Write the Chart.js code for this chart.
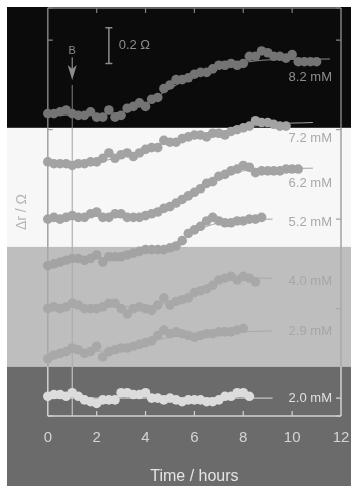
<!DOCTYPE html>
<html>
<head>
<meta charset="utf-8">
<script src="https://cdn.jsdelivr.net/npm/chart.js@4.4.0/dist/chart.umd.min.js"></script>
<style>
  html, body { margin: 0; padding: 0; background: #fff; }
  canvas { display: block; }
</style>
</head>
<body>
<canvas id="myChart" width="351" height="486"></canvas>
<script>
// time axis shared by all runs (hours)
var hours = [0, 0.25, 0.5, 0.75, 1, 1.25, 1.5, 1.75, 2, 2.25, 2.5, 2.75, 3, 3.25, 3.5, 3.75,
  4, 4.25, 4.5, 4.75, 5, 5.25, 5.5, 5.75, 6, 6.25, 6.5, 6.75, 7, 7.25, 7.5, 7.75,
  8, 8.25, 8.5, 8.75, 9, 9.25, 9.5, 9.75, 10, 10.25, 10.5, 10.75, 11];

var conc = ['8.2 mM', '7.2 mM', '6.2 mM', '5.2 mM', '4.0 mM', '2.9 mM', '2.0 mM'];

// delta r (ohm), curves offset as in the figure
var r82 = [1.59, 1.59, 1.60, 1.61, 1.59, 1.58, 1.58, 1.60, 1.57,
  1.57, 1.61, 1.57, 1.58, 1.62, 1.63, 1.65, 1.63,
  1.67, 1.68, 1.73, 1.75, 1.78, 1.78, 1.79, 1.81,
  1.82, 1.82, 1.84, 1.86, 1.86, 1.87, 1.86, 1.87,
  1.91, 1.91, 1.94, 1.93, 1.91, 1.91, 1.90, 1.92,
  1.88, 1.88, 1.88, 1.88];
var r72 = [1.32, 1.31, 1.31, 1.31, 1.30, 1.31, 1.31, 1.32, 1.32,
  1.34, 1.37, 1.34, 1.36, 1.37, 1.35, 1.37, 1.39,
  1.40, 1.40, 1.44, 1.43, 1.43, 1.45, 1.46, 1.47,
  1.47, 1.46, 1.48, 1.48, 1.47, 1.49, 1.50, 1.51,
  1.52, 1.55, 1.54, 1.54, 1.53, 1.52, 1.52];
var r62 = [1.00, 1.01, 1.00, 1.01, 1.02, 1.01, 1.01, 1.03, 1.04,
  1.01, 1.01, 1.03, 1.03, 1.01, 1.01, 1.01, 1.02,
  1.03, 1.04, 1.06, 1.07, 1.09, 1.11, 1.13, 1.15,
  1.17, 1.20, 1.21, 1.24, 1.25, 1.27, 1.28, 1.30,
  1.29, 1.26, 1.27, 1.27, 1.27, 1.27, 1.28, 1.28, 1.28];
var r52 = [0.74, 0.75, 0.76, 0.77, 0.78, 0.78, 0.77, 0.78, 0.80,
  0.76, 0.79, 0.79, 0.79, 0.80, 0.81, 0.82, 0.83,
  0.83, 0.83, 0.83, 0.84, 0.85, 0.88, 0.92, 0.94,
  0.96, 0.99, 1.01, 0.99, 0.98, 0.98, 0.99, 0.99,
  1.00, 1.00, 1.01];
var r40 = [0.50, 0.51, 0.50, 0.51, 0.53, 0.52, 0.50, 0.50, 0.50,
  0.51, 0.53, 0.53, 0.50, 0.47, 0.50, 0.51, 0.50,
  0.49, 0.52, 0.56, 0.52, 0.54, 0.55, 0.56, 0.59,
  0.60, 0.61, 0.63, 0.66, 0.67, 0.68, 0.66, 0.68,
  0.67, 0.65];
var r29 = [0.22, 0.24, 0.25, 0.26, 0.28, 0.27, 0.25, 0.26, 0.29,
  0.23, 0.26, 0.27, 0.28, 0.28, 0.29, 0.30, 0.31,
  0.32, 0.35, 0.38, 0.36, 0.37, 0.36, 0.35, 0.34,
  0.35, 0.36, 0.36, 0.37, 0.37, 0.37, 0.38, 0.39];
var r20 = [0.01, 0.02, 0.02, 0.01, 0.03, 0.01, -0.01, -0.02, -0.03,
  -0.01, -0.01, -0.01, 0.03, 0.03, 0.02, 0.02, 0.03,
  0.00, 0.00, -0.01, 0.00, -0.01, -0.02, -0.01, -0.01,
  -0.01, -0.02, -0.02, -0.01, 0.01, 0.01, 0.03, 0.03,
  0.01];

// fitted curves, read at these hours plus an end hour per run
var fitHours = [0, 2, 3, 4, 5, 6, 7, 8, 9];
var fitEnd = [11.55, 10.85, 10.85, 9.2, 9.15, 9.15, 9.2];
var fit82 = [1.58, 1.585, 1.60, 1.645, 1.73, 1.80, 1.85, 1.875, 1.89, 1.895];
var fit72 = [1.31, 1.32, 1.35, 1.39, 1.435, 1.47, 1.49, 1.51, 1.53, 1.54];
var fit62 = [1.01, 1.015, 1.02, 1.03, 1.07, 1.15, 1.23, 1.27, 1.28, 1.285];
var fit52 = [0.76, 0.78, 0.795, 0.82, 0.85, 0.93, 0.98, 0.995, 1.0, 1.0];
var fit40 = [0.51, 0.51, 0.51, 0.515, 0.535, 0.59, 0.65, 0.67, 0.67, 0.67];
var fit29 = [0.25, 0.26, 0.28, 0.31, 0.34, 0.355, 0.365, 0.37, 0.375, 0.375];
var fit20 = [0.0, 0.0, 0.0, 0.0, 0.0, 0.0, 0.0, 0.0, 0.0, 0.0];

var labelLevel = [1.79, 1.45, 1.20, 0.98, 0.65, 0.37, 0.0];
var bandEdges = [1.51, 0.845, 0.175];

var pointInk = ['#747474', '#a3a3a3', '#a3a3a3', '#a3a3a3', '#a8a8a8', '#a8a8a8', '#dcdcdc'];
var lineInk = ['#8a8a8a', '#a3a3a3', '#a3a3a3', '#a3a3a3', '#a8a8a8', '#a8a8a8', '#dedede'];
var labelInk = ['#8e8e8e', '#a9a9a9', '#a9a9a9', '#a9a9a9', '#a6a6a6', '#a6a6a6', '#e0e0e0'];
var bandFill = ['#0b0b0b', '#f7f7f7', '#bebebe', '#6b6b6b'];
var frameInk = ['#808080', '#a2a2a2', '#a8a8a8', '#d2d2d2'];
var FONT = '"Liberation Sans", Arial, sans-serif';

var series = [r82, r72, r62, r52, r40, r29, r20];
var fits = [fit82, fit72, fit62, fit52, fit40, fit29, fit20];

var datasets = [];
series.forEach(function (vals, i) {
  datasets.push({
    label: conc[i],
    data: vals.map(function (v, j) { return { x: hours[j], y: v }; }),
    showLine: false,
    pointRadius: 4.8,
    pointBorderWidth: 0,
    pointBackgroundColor: pointInk[i],
    clip: false,
    order: 0
  });
  datasets.push({
    label: conc[i] + ' fit',
    data: fitHours.concat([fitEnd[i]]).map(function (t, j) { return { x: t, y: fits[i][j] }; }),
    showLine: true,
    pointRadius: 0,
    borderColor: lineInk[i],
    borderWidth: 1,
    cubicInterpolationMode: 'monotone',
    clip: false,
    order: 1
  });
});

function edgesPx(chart) {
  var y = chart.scales.y;
  return bandEdges.map(function (v) { return y.getPixelForValue(v); });
}
function bandAt(chart, py) {
  var e = edgesPx(chart), i = 0;
  while (i < e.length && py > e[i]) i++;
  return i;
}
function vline(ctx, chart, x, y0, y1, w) {
  var stops = [y0].concat(edgesPx(chart).filter(function (p) { return p > y0 && p < y1; })).concat([y1]);
  ctx.lineWidth = w;
  for (var k = 0; k < stops.length - 1; k++) {
    ctx.strokeStyle = frameInk[bandAt(chart, (stops[k] + stops[k + 1]) / 2)];
    ctx.beginPath();
    ctx.moveTo(x, stops[k]);
    ctx.lineTo(x, stops[k + 1]);
    ctx.stroke();
  }
}

var backdrop = {
  id: 'backdrop',
  beforeDraw: function (chart) {
    var ctx = chart.ctx, a = chart.chartArea, e = edgesPx(chart);
    ctx.save();
    ctx.fillStyle = '#ffffff';
    ctx.fillRect(0, 0, chart.width, chart.height);
    var ys = [a.top - 1].concat(e).concat([chart.height]);
    for (var i = 0; i < 4; i++) {
      ctx.fillStyle = bandFill[i];
      ctx.fillRect(7, ys[i], chart.width - 7, ys[i + 1] - ys[i]);
    }
    ctx.restore();
  },
  beforeDatasetsDraw: function (chart) {
    var ctx = chart.ctx, a = chart.chartArea, xs = chart.scales.x, ys = chart.scales.y;
    ctx.save();
    // frame
    vline(ctx, chart, a.left, a.top, a.bottom, 1.5);
    vline(ctx, chart, a.right, a.top, a.bottom, 1.5);
    ctx.lineWidth = 1.5;
    ctx.strokeStyle = frameInk[0];
    ctx.beginPath(); ctx.moveTo(a.left, a.top); ctx.lineTo(a.right, a.top); ctx.stroke();
    ctx.strokeStyle = frameInk[3];
    ctx.beginPath(); ctx.moveTo(a.left, a.bottom); ctx.lineTo(a.right, a.bottom); ctx.stroke();
    // inward ticks
    ctx.lineWidth = 1.2;
    ys.ticks.forEach(function (t) {
      var py = ys.getPixelForValue(t.value);
      ctx.strokeStyle = frameInk[bandAt(chart, py)];
      ctx.beginPath();
      ctx.moveTo(a.left, py); ctx.lineTo(a.left + 5, py);
      ctx.moveTo(a.right, py); ctx.lineTo(a.right - 5, py);
      ctx.stroke();
    });
    xs.ticks.forEach(function (t) {
      if (t.value <= xs.min || t.value >= xs.max) return;
      var px = xs.getPixelForValue(t.value);
      ctx.strokeStyle = frameInk[0];
      ctx.beginPath(); ctx.moveTo(px, a.top); ctx.lineTo(px, a.top + 5); ctx.stroke();
      ctx.strokeStyle = frameInk[3];
      ctx.beginPath(); ctx.moveTo(px, a.bottom); ctx.lineTo(px, a.bottom - 5); ctx.stroke();
    });
    // B marker at 1 h
    var bx = xs.getPixelForValue(1);
    vline(ctx, chart, bx, ys.getPixelForValue(1.75), a.bottom, 1);
    var tip = ys.getPixelForValue(1.777), top = ys.getPixelForValue(1.905);
    ctx.strokeStyle = '#8c8c8c';
    ctx.fillStyle = '#8c8c8c';
    ctx.lineWidth = 1.2;
    ctx.beginPath(); ctx.moveTo(bx, top); ctx.lineTo(bx, tip - 10); ctx.stroke();
    ctx.beginPath();
    ctx.moveTo(bx, tip);
    ctx.lineTo(bx - 4.5, tip - 15);
    ctx.lineTo(bx, tip - 11);
    ctx.lineTo(bx + 4.5, tip - 15);
    ctx.closePath();
    ctx.fill();
    ctx.font = '11px ' + FONT;
    ctx.textAlign = 'center';
    ctx.textBaseline = 'middle';
    ctx.fillText('B', bx, ys.getPixelForValue(1.94));
    // 0.2 ohm scale bar
    var sx = xs.getPixelForValue(2.5), s0 = ys.getPixelForValue(1.87), s1 = ys.getPixelForValue(2.07);
    ctx.lineWidth = 1.5;
    ctx.beginPath();
    ctx.moveTo(sx, s0); ctx.lineTo(sx, s1);
    ctx.moveTo(sx - 3.5, s0); ctx.lineTo(sx + 3.5, s0);
    ctx.moveTo(sx - 3.5, s1); ctx.lineTo(sx + 3.5, s1);
    ctx.stroke();
    ctx.font = '13px ' + FONT;
    ctx.textAlign = 'left';
    ctx.fillText('0.2 \u03A9', xs.getPixelForValue(2.9), ys.getPixelForValue(1.97));
    ctx.restore();
  },
  afterDatasetsDraw: function (chart) {
    var ctx = chart.ctx, xs = chart.scales.x, ys = chart.scales.y;
    ctx.save();
    ctx.font = '13px ' + FONT;
    ctx.textAlign = 'right';
    ctx.textBaseline = 'middle';
    conc.forEach(function (c, i) {
      ctx.fillStyle = labelInk[i];
      ctx.fillText(c, xs.getPixelForValue(11.63), ys.getPixelForValue(labelLevel[i]));
    });
    ctx.restore();
  }
};

var ctx = document.getElementById('myChart').getContext('2d');
var myChart = new Chart(ctx, {
  type: 'scatter',
  data: { datasets: datasets },
  plugins: [backdrop],
  options: {
    responsive: false,
    animation: false,
    devicePixelRatio: 1,
    layout: { padding: { top: 8, right: 10, left: 0, bottom: 0 } },
    plugins: {
      legend: { display: false },
      tooltip: { enabled: false }
    },
    scales: {
      x: {
        type: 'linear',
        min: 0,
        max: 12,
        grid: { display: false, drawTicks: false },
        border: { display: false },
        ticks: { stepSize: 2, padding: 13, color: '#d4d4d4', font: { family: FONT, size: 15 } },
        title: {
          display: true,
          text: 'Time / hours',
          color: '#e4e4e4',
          font: { family: FONT, size: 16 },
          padding: { top: 6, bottom: 0 }
        },
        afterFit: function (scale) {
          scale.paddingLeft = 0;
          scale.paddingRight = 0;
          scale.height = 70;
        }
      },
      y: {
        type: 'linear',
        min: -0.1,
        max: 2.18,
        grid: { display: false, drawTicks: false },
        border: { display: false },
        ticks: { display: false, stepSize: 0.5 },
        title: {
          display: true,
          text: '\u0394r / \u03A9',
          color: '#b5b5b5',
          font: { family: FONT, size: 14 },
          padding: { top: 14, bottom: 17 }
        }
      }
    }
  }
});
</script>
</body>
</html>
